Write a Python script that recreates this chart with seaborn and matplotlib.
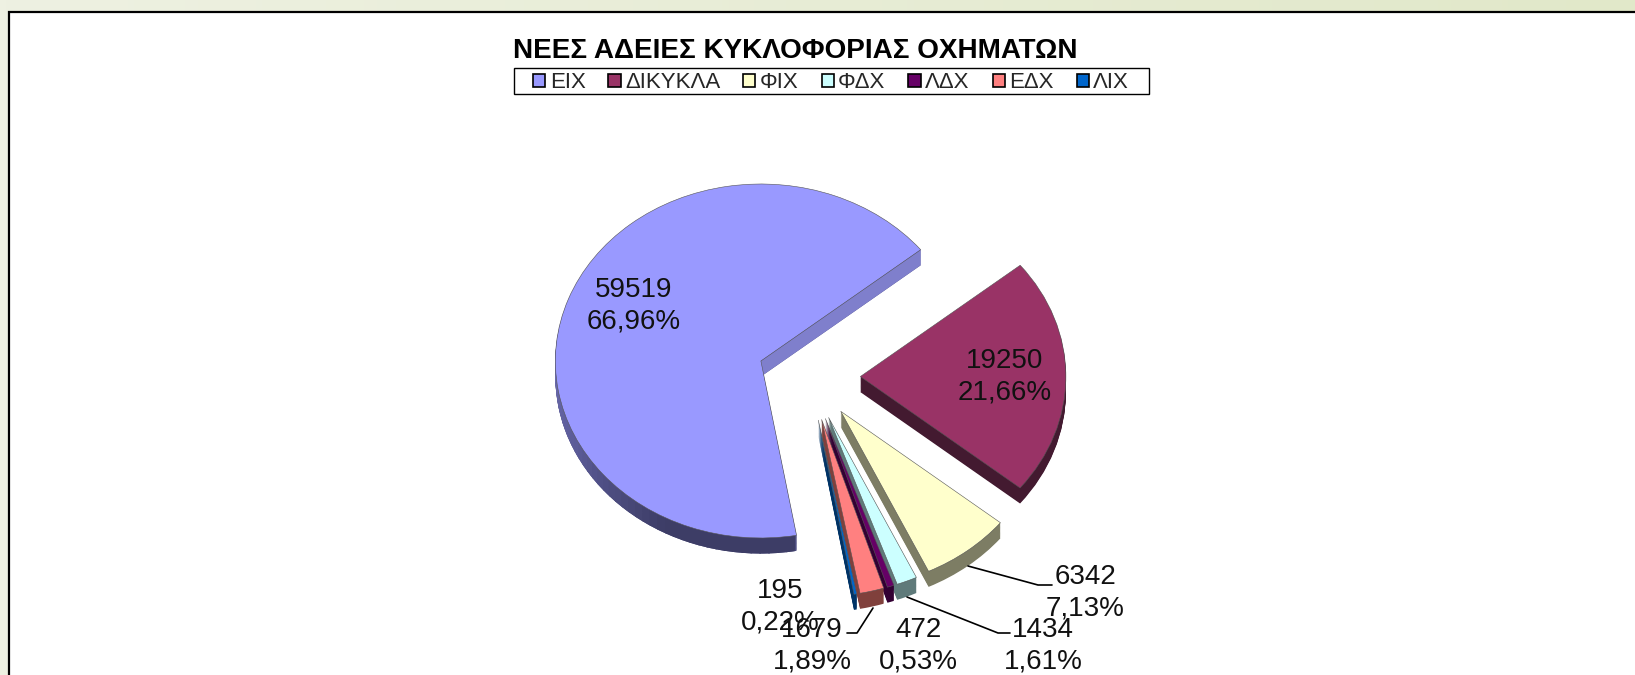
import numpy as np
import matplotlib
matplotlib.use("Agg")
import matplotlib.pyplot as plt
from matplotlib.colors import LinearSegmentedColormap
from matplotlib.lines import Line2D
from matplotlib.patches import Rectangle, Wedge
import seaborn as sns

#%% Data
title = "ΝΕΕΣ ΑΔΕΙΕΣ ΚΥΚΛΟΦΟΡΙΑΣ ΟΧΗΜΑΤΩΝ"
categories = ["ΕΙΧ", "ΔΙΚΥΚΛΑ", "ΦΙΧ", "ΦΔΧ", "ΛΔΧ", "ΕΔΧ", "ΛΙΧ"]
values = [59519, 19250, 6342, 1434, 472, 1679, 195]
colors = ["#9999FF", "#993366", "#FFFFCC", "#CCFFFF", "#660066", "#FF8080", "#0066CC"]
side_colors = ["#4D4D80", "#431A30", "#7D7D64", "#5F7A7A", "#330033", "#80403C", "#003366"]

W, H = 1635, 675

sns.set_theme(style="white")
plt.rcParams["font.family"] = ["Liberation Sans", "DejaVu Sans"]

fig = plt.figure(figsize=(W / 100, H / 100), dpi=100)


def px(x, y):
    return x / W, 1 - y / H


def box(x0, y0, x1, y1, **kw):
    return Rectangle(px(x0, y1), (x1 - x0) / W, (y1 - y0) / H, transform=fig.transFigure, **kw)


#%% Background
bg = fig.add_axes([0, 0, 1, 1], zorder=-3)
bg.imshow(np.linspace(0, 1, 256).reshape(1, -1), aspect="auto",
          cmap=LinearSegmentedColormap.from_list("bg", ["#EEF1E2", "#E1E8C9"]))
bg.axis("off")
fig.add_artist(box(9, 12, W + 20, H + 20, facecolor="white", edgecolor="black",
                   linewidth=1.6, zorder=-2))

#%% Pie
rx, ry = 205.5, 177.0
cx, cy = 809.0, 376.5
depth = 0.088
ax = fig.add_axes([0, 0, 1, 1], zorder=0)
explode = [0.25] * len(values)
pie_args = dict(startangle=280, counterclock=False, explode=explode, radius=1)

layers = np.linspace(depth, 0.005, 18)
for k in layers:
    ax.pie(values, colors=side_colors, center=(0, -k),
           wedgeprops=dict(edgecolor="none", linewidth=0, zorder=0.5), **pie_args)
wedges, _ = ax.pie(values, colors=colors, center=(0, 0),
                   wedgeprops=dict(edgecolor="#555555", linewidth=0.4, zorder=1), **pie_args)

# rim of the big slice gets darker towards the bottom
w0 = wedges[0]
x0, y0 = w0.center
rim_cmap = LinearSegmentedColormap.from_list("rim", ["#7070B4", "#5A5A96", "#3D3D66", "#3D3D66"])
steps = np.linspace(170, 279.5, 45)
for i, (t0, t1) in enumerate(zip(steps[:-1], steps[1:])):
    c = rim_cmap(i / (len(steps) - 2))
    for k in layers:
        ax.add_patch(Wedge((x0, y0 - k), 1, t0, min(t1 + 0.5, steps[-1]), facecolor=c,
                           edgecolor="none", linewidth=0, zorder=0.6))

# lit cut face of the big slice
a = np.deg2rad(w0.theta1 if np.cos(np.deg2rad(w0.theta1)) > 0 else w0.theta2)
x1, y1 = x0 + np.cos(a), y0 + np.sin(a)
ax.fill([x0, x1, x1, x0], [y0, y1, y1 - depth, y0 - depth], color="#7F7FCC", lw=0, zorder=0.7)

ax.set_aspect("auto")
ax.set_xlim(-cx / rx, (W - cx) / rx)
ax.set_ylim(-(H - cy) / ry, cy / ry)

#%% Labels
total = sum(values)
label_xy = {
    "ΕΙΧ": (634, 306),
    "ΔΙΚΥΚΛΑ": (1005, 377),
    "ΦΙΧ": (1085, 593),
    "ΦΔΧ": (1043, 646),
    "ΛΔΧ": (918, 646),
    "ΕΔΧ": (812, 646),
    "ΛΙΧ": (780, 607),
}
for name, val in zip(categories, values):
    pct = f"{val / total * 100:.2f}".replace(".", ",")
    x, y = label_xy[name]
    fig.text(*px(x, y), f"{val}\n{pct}%", ha="center", va="center", fontsize=20,
             linespacing=1.28, color="#111111", zorder=5)

leaders = [
    [(968, 566), (1038, 585), (1052, 585)],
    [(907, 597), (998, 633), (1010, 633)],
    [(873, 608), (857, 633), (847, 633)],
]
for pts in leaders:
    xs, ys = zip(*[px(*p) for p in pts])
    fig.add_artist(Line2D(xs, ys, color="black", linewidth=1.2, zorder=4))

#%% Title and legend
fig.text(*px(795, 51), title, ha="center", va="center", fontsize=20.1, fontweight="bold",
         color="black", zorder=5)

fig.add_artist(box(514, 68, 1149, 94, facecolor="white", edgecolor="black", linewidth=1.0, zorder=4))
handles = [Rectangle((0, 0), 1, 1, facecolor=c, edgecolor="black", linewidth=1.2) for c in colors]
leg = fig.legend(handles, categories, ncol=7, loc="center left", bbox_to_anchor=px(533, 83),
                 fontsize=16, frameon=False, handlelength=0.55, handleheight=0.55,
                 handletextpad=0.2, columnspacing=1.03, borderpad=0, borderaxespad=0)
leg.set_zorder(5)

fig.savefig("out.png", dpi=100)
